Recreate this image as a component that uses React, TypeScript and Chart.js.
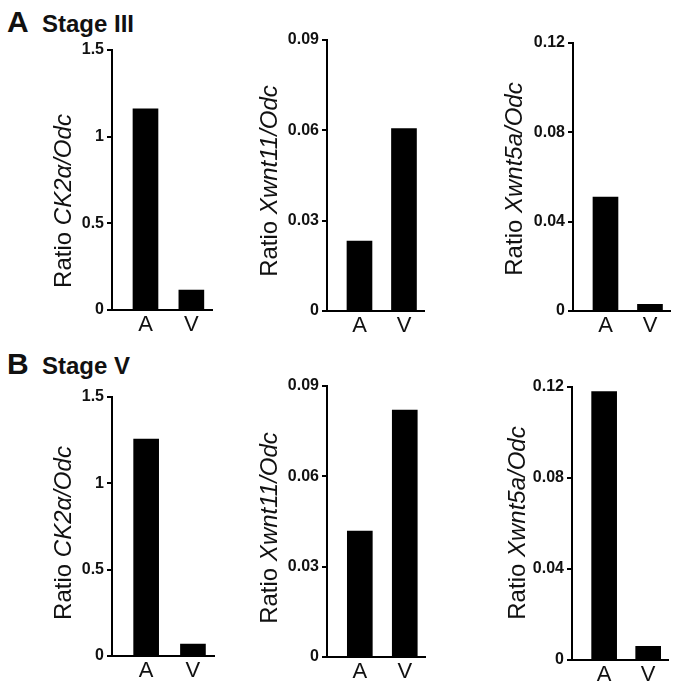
import { useEffect, useRef } from 'react';
import { Chart, registerables } from 'chart.js';

Chart.register(...registerables);

const FONT = '"Liberation Sans", Arial, Helvetica, sans-serif';

// groups on the x axis
const groups = ['A', 'V'];
const groupPositions = [1, 2];

// Stage III
const ck2aStage3 = [1.16, 0.115];
const xwnt11Stage3 = [0.0232, 0.0606];
const xwnt5aStage3 = [0.051, 0.003];

// Stage V
const ck2aStage5 = [1.257, 0.069];
const xwnt11Stage5 = [0.0418, 0.082];
const xwnt5aStage5 = [0.118, 0.006];

// y ticks
const ck2aTicks = [0, 0.5, 1, 1.5];
const ck2aTickLabels = ['0', '0.5', '1', '1.5'];
const xwnt11Ticks = [0, 0.03, 0.06, 0.09];
const xwnt11TickLabels = ['0', '0.03', '0.06', '0.09'];
const xwnt5aTicks = [0, 0.04, 0.08, 0.12];
const xwnt5aTickLabels = ['0', '0.04', '0.08', '0.12'];

const Y_AXIS_W = 100;
const X_AXIS_H = 45;
const PAD_TOP = 14;
const PAD_RIGHT = 4;

type Panel = {
  values: number[];
  ticks: number[];
  tickLabels: string[];
  gene: string;
  axisX: number;
  topY: number;
  zeroY: number;
  endX: number;
  titleX: number;
  titleY: number;
};

const panels: Panel[] = [
  { values: ck2aStage3, ticks: ck2aTicks, tickLabels: ck2aTickLabels, gene: 'CK2α/Odc', axisX: 112, topY: 50, zeroY: 310, endX: 212, titleX: 64, titleY: 201 },
  { values: xwnt11Stage3, ticks: xwnt11Ticks, tickLabels: xwnt11TickLabels, gene: 'Xwnt11/Odc', axisX: 327, topY: 40, zeroY: 311, endX: 424, titleX: 270, titleY: 181 },
  { values: xwnt5aStage3, ticks: xwnt5aTicks, tickLabels: xwnt5aTickLabels, gene: 'Xwnt5a/Odc', axisX: 573, topY: 43, zeroY: 311, endX: 670, titleX: 515, titleY: 179 },
  { values: ck2aStage5, ticks: ck2aTicks, tickLabels: ck2aTickLabels, gene: 'CK2α/Odc', axisX: 112, topY: 397, zeroY: 656, endX: 214, titleX: 64, titleY: 533 },
  { values: xwnt11Stage5, ticks: xwnt11Ticks, tickLabels: xwnt11TickLabels, gene: 'Xwnt11/Odc', axisX: 327, topY: 386, zeroY: 657, endX: 425, titleX: 270, titleY: 528 },
  { values: xwnt5aStage5, ticks: xwnt5aTicks, tickLabels: xwnt5aTickLabels, gene: 'Xwnt5a/Odc', axisX: 572, topY: 387, zeroY: 660, endX: 668, titleX: 518, titleY: 523 },
];

// rotated y title, "Ratio " upright + gene name in italics
const yTitlePlugin = {
  id: 'yTitle',
  afterDraw(chart: any, _args: any, opts: any) {
    const { ctx } = chart;
    const normal = `24px ${FONT}`;
    const italic = `italic 24px ${FONT}`;
    ctx.save();
    ctx.translate(opts.x, opts.y);
    ctx.rotate(-Math.PI / 2);
    ctx.font = normal;
    const w1 = ctx.measureText(opts.prefix).width;
    ctx.font = italic;
    const w2 = ctx.measureText(opts.gene).width;
    const start = -(w1 + w2) / 2;
    ctx.textBaseline = 'middle';
    ctx.fillStyle = '#111';
    ctx.font = normal;
    ctx.fillText(opts.prefix, start, 0);
    ctx.font = italic;
    ctx.fillText(opts.gene, start + w1, 0);
    ctx.restore();
  },
};

function BarPanel({ panel }: { panel: Panel }) {
  const canvasRef = useRef<HTMLCanvasElement>(null);
  const left = panel.axisX - Y_AXIS_W;
  const top = panel.topY - PAD_TOP;
  const width = panel.endX - left + PAD_RIGHT;
  const height = panel.zeroY - top + X_AXIS_H;

  useEffect(() => {
    if (!canvasRef.current) return;
    const chart = new Chart(canvasRef.current, {
      type: 'bar',
      data: {
        datasets: [
          {
            data: groupPositions.map((x, i) => ({ x, y: panel.values[i] })),
            backgroundColor: '#000',
            borderWidth: 0,
            barThickness: 25,
          },
        ],
      },
      options: {
        responsive: false,
        animation: false,
        layout: { padding: { top: PAD_TOP, right: PAD_RIGHT, left: 0, bottom: 0 } },
        plugins: {
          legend: { display: false },
          tooltip: { enabled: false },
          yTitle: { x: panel.titleX - left, y: panel.titleY - top, prefix: 'Ratio ', gene: panel.gene },
        } as any,
        scales: {
          x: {
            type: 'linear',
            offset: false,
            min: 0.27,
            max: 2.45,
            afterFit: (s: any) => {
              s.height = X_AXIS_H;
            },
            afterBuildTicks: (s: any) => {
              s.ticks = groupPositions.map((v) => ({ value: v }));
            },
            ticks: {
              callback: (_v: any, i: number) => groups[i],
              font: { family: FONT, size: 22 },
              color: '#111',
              padding: 2,
              maxRotation: 0,
              autoSkip: false,
            },
            grid: { display: false, drawTicks: false, offset: false },
            border: { display: true, color: '#000', width: 2 },
          },
          y: {
            type: 'linear',
            min: 0,
            max: panel.ticks[panel.ticks.length - 1],
            afterFit: (s: any) => {
              s.width = Y_AXIS_W;
            },
            afterBuildTicks: (s: any) => {
              s.ticks = panel.ticks.map((v) => ({ value: v }));
            },
            ticks: {
              callback: (_v: any, i: number) => panel.tickLabels[i],
              font: { family: FONT, size: 16, weight: 'bold' },
              color: '#111',
              padding: 3,
            },
            grid: { drawOnChartArea: false, drawTicks: true, tickLength: 5, lineWidth: 2, color: '#000' },
            border: { display: true, color: '#000', width: 2 },
          },
        },
      },
      plugins: [yTitlePlugin],
    });
    return () => chart.destroy();
  }, []);

  return (
    <canvas
      ref={canvasRef}
      width={width}
      height={height}
      style={{ position: 'absolute', left, top, width, height }}
    />
  );
}

export default function App() {
  const letter = { position: 'absolute' as const, font: `bold 30px ${FONT}`, lineHeight: '30px', color: '#111', left: 7 };
  const stage = { position: 'absolute' as const, font: `bold 24px ${FONT}`, lineHeight: '24px', color: '#111', left: 42 };
  return (
    <div style={{ position: 'fixed', left: 0, top: 0, width: 675, height: 683, background: '#fff', overflow: 'hidden' }}>
      <div style={{ ...letter, top: 7 }}>A</div>
      <div style={{ ...stage, top: 12 }}>Stage III</div>
      <div style={{ ...letter, top: 349 }}>B</div>
      <div style={{ ...stage, top: 354 }}>Stage V</div>
      {panels.map((p, i) => (
        <BarPanel key={i} panel={p} />
      ))}
    </div>
  );
}
